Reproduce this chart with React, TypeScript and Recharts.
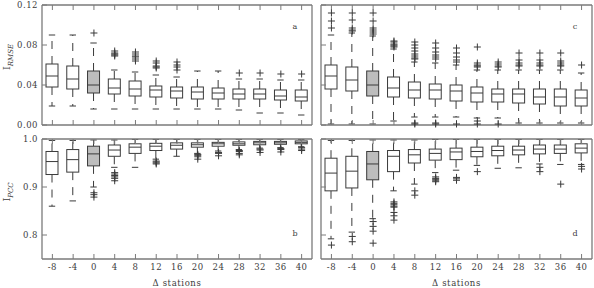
import React from 'react';
import { ComposedChart, Bar, Scatter, XAxis, YAxis } from 'recharts';

// ---------- categories / ticks ----------
const stations = [-8, -4, 0, 4, 8, 12, 16, 20, 24, 28, 32, 36, 40];
const highlightStation = 0;
const rmseTicks = [0, 0.04, 0.08, 0.12];
const pccTicks = [0.8, 0.9, 1.0];

// ---------- panel a : I_RMSE (left) ----------
const aHigh = [0.090, 0.090, 0.082, 0.055, 0.053, 0.050, 0.048, 0.054, 0.054, 0.046, 0.046, 0.045, 0.045];
const aQ3 = [0.061, 0.059, 0.054, 0.046, 0.044, 0.039, 0.038, 0.038, 0.037, 0.036, 0.036, 0.035, 0.035];
const aMed = [0.049, 0.046, 0.040, 0.037, 0.036, 0.035, 0.034, 0.033, 0.032, 0.031, 0.031, 0.029, 0.028];
const aQ1 = [0.038, 0.036, 0.032, 0.031, 0.029, 0.028, 0.027, 0.026, 0.026, 0.026, 0.026, 0.025, 0.024];
const aLow = [0.019, 0.019, 0.016, 0.016, 0.016, 0.016, 0.016, 0.016, 0.016, 0.015, 0.012, 0.012, 0.010];
const aOut = [
  [], [], [0.092],
  [0.074, 0.072, 0.071, 0.070, 0.069],
  [0.073, 0.071, 0.069, 0.068, 0.066, 0.064],
  [0.064, 0.062, 0.059, 0.058, 0.057],
  [0.063, 0.060, 0.058, 0.055],
  [], [], [0.052], [0.052], [0.051], [0.051],
];

// ---------- panel c : I_RMSE (right) ----------
const cHigh = [0.090, 0.092, 0.089, 0.076, 0.063, 0.062, 0.060, 0.055, 0.055, 0.055, 0.055, 0.055, 0.052];
const cQ3 = [0.060, 0.058, 0.054, 0.048, 0.043, 0.041, 0.040, 0.038, 0.036, 0.036, 0.036, 0.036, 0.035];
const cMed = [0.049, 0.045, 0.040, 0.037, 0.035, 0.035, 0.034, 0.032, 0.031, 0.031, 0.028, 0.028, 0.027];
const cQ1 = [0.036, 0.034, 0.029, 0.028, 0.027, 0.026, 0.024, 0.023, 0.023, 0.022, 0.021, 0.019, 0.019];
const cLow = [0.001, 0.001, 0.001, 0.004, 0.008, 0.008, 0.008, 0.007, 0.007, 0.002, 0.002, 0.002, 0.002];
const cOut = [
  [0.112, 0.104, 0.097],
  [0.112, 0.105, 0.097, 0.095, 0.094],
  [0.112, 0.104, 0.097, 0.095, 0.093, 0.091],
  [0.084, 0.083, 0.081, 0.080, 0.079, 0.078],
  [0.083, 0.080, 0.077, 0.074, 0.071, 0.069, 0.067, 0.066, 0.002, 0.001],
  [0.082, 0.077, 0.073, 0.070, 0.068, 0.066, 0.002, 0.001],
  [0.077, 0.072, 0.068, 0.065, 0.063, 0.001],
  [0.078, 0.062, 0.060, 0.059, 0.058, 0.004, 0.001],
  [0.063, 0.061, 0.059, 0.058, 0.001],
  [0.072, 0.065, 0.062, 0.060, 0.059],
  [0.072, 0.065, 0.062, 0.060, 0.059],
  [0.072, 0.064, 0.062, 0.060, 0.059],
  [0.060],
];

// ---------- panel b : I_PCC (left) ----------
const bHigh = [0.997, 0.997, 0.998, 0.998, 0.999, 0.999, 0.999, 0.999, 0.999, 0.999, 0.999, 0.999, 0.999];
const bQ3 = [0.974, 0.978, 0.985, 0.9875, 0.990, 0.991, 0.992, 0.992, 0.993, 0.994, 0.995, 0.995, 0.996];
const bMed = [0.953, 0.957, 0.969, 0.977, 0.983, 0.985, 0.987, 0.988, 0.990, 0.990, 0.992, 0.992, 0.993];
const bQ1 = [0.926, 0.931, 0.944, 0.964, 0.970, 0.976, 0.979, 0.983, 0.985, 0.987, 0.988, 0.989, 0.990];
const bLow = [0.860, 0.871, 0.900, 0.941, 0.941, 0.958, 0.964, 0.970, 0.975, 0.978, 0.981, 0.982, 0.984];
const bOut = [
  [], [],
  [0.888, 0.884, 0.879],
  [0.930, 0.927, 0.924, 0.921, 0.918, 0.913],
  [],
  [0.954, 0.952, 0.950, 0.948],
  [],
  [0.968, 0.966, 0.963, 0.958],
  [0.972, 0.970, 0.965],
  [0.976, 0.974, 0.970, 0.967],
  [0.979, 0.977, 0.972],
  [0.980, 0.978, 0.973],
  [0.982, 0.979, 0.976],
];

// ---------- panel d : I_PCC (right) ----------
const dHigh = [0.997, 0.997, 0.998, 0.998, 0.998, 0.999, 0.999, 0.999, 0.999, 0.999, 0.999, 0.999, 0.999];
const dQ3 = [0.960, 0.964, 0.974, 0.976, 0.978, 0.979, 0.981, 0.983, 0.985, 0.985, 0.9875, 0.9875, 0.990];
const dMed = [0.929, 0.933, 0.948, 0.964, 0.967, 0.970, 0.973, 0.974, 0.976, 0.977, 0.979, 0.979, 0.981];
const dQ1 = [0.892, 0.898, 0.915, 0.932, 0.950, 0.956, 0.957, 0.963, 0.965, 0.967, 0.969, 0.970, 0.971];
const dLow = [0.792, 0.806, 0.834, 0.892, 0.906, 0.930, 0.935, 0.945, 0.939, 0.940, 0.948, 0.947, 0.947];
const dOut = [
  [0.779],
  [0.797, 0.786],
  [0.828, 0.818, 0.808, 0.783],
  [0.869, 0.866, 0.863, 0.860, 0.858, 0.847, 0.840, 0.831],
  [0.892, 0.883],
  [0.921, 0.918, 0.916, 0.913, 0.911],
  [0.920, 0.917, 0.914],
  [0.932],
  [], [],
  [0.941, 0.932],
  [0.906],
  [0.943, 0.9375],
];

// ---------- styling ----------
const FONT = 'DejaVu Serif';
const FRAME = '#7a7a7a';
const INK = '#3a3a3a';
const TEXT = '#3c3c3c';

const maxOut = Math.max(...[aOut, cOut, bOut, dOut].flat().map((l) => l.length));
const outKeys = Array.from({ length: maxOut }, (_, k) => 'o' + k);

function buildRows(low: number[], q1: number[], med: number[], q3: number[], high: number[], out: number[][]) {
  return stations.map((x, i) => {
    const row: any = {
      x,
      range: [low[i], high[i]],
      lo: low[i], q1: q1[i], med: med[i], q3: q3[i], hi: high[i],
      filled: x === highlightStation,
    };
    outKeys.forEach((k, j) => {
      row[k] = out[i][j] ?? null;
    });
    return row;
  });
}

const rowsA = buildRows(aLow, aQ1, aMed, aQ3, aHigh, aOut);
const rowsC = buildRows(cLow, cQ1, cMed, cQ3, cHigh, cOut);
const rowsB = buildRows(bLow, bQ1, bMed, bQ3, bHigh, bOut);
const rowsD = buildRows(dLow, dQ1, dMed, dQ3, dHigh, dOut);

function BoxShape(props: any) {
  const { x, y, width, height, payload } = props;
  if (!payload || x == null || y == null) return <g />;
  const { lo, q1, med, q3, hi, filled } = payload;
  const yTop = Math.min(y, y + height);
  const yBot = Math.max(y, y + height);
  const py = (v: number) => yBot - ((yBot - yTop) * (v - lo)) / (hi - lo);
  const cx = x + width / 2;
  const cap = 3.2;
  const yQ3 = py(q3);
  const yQ1 = py(q1);
  const yMed = py(med);
  return (
    <g>
      <line x1={cx} x2={cx} y1={yQ3} y2={yTop} stroke={INK} strokeWidth={1} strokeDasharray="8 7" />
      <line x1={cx} x2={cx} y1={yQ1} y2={yBot} stroke={INK} strokeWidth={1} strokeDasharray="8 7" />
      <line x1={cx - cap} x2={cx + cap} y1={yTop} y2={yTop} stroke={INK} strokeWidth={1} />
      <line x1={cx - cap} x2={cx + cap} y1={yBot} y2={yBot} stroke={INK} strokeWidth={1} />
      <rect x={x} y={yQ3} width={width} height={yQ1 - yQ3} fill={filled ? '#bdbdbd' : '#ffffff'} stroke={INK} strokeWidth={1} />
      <line x1={x} x2={x + width} y1={yMed} y2={yMed} stroke={INK} strokeWidth={1} />
    </g>
  );
}

function Plus(props: any) {
  const { cx, cy } = props;
  if (cx == null || cy == null || !isFinite(cx) || !isFinite(cy)) return <g />;
  const s = 3.5;
  return (
    <path d={`M${cx - s},${cy}H${cx + s}M${cx},${cy - s}V${cy + s}`} stroke={INK} strokeWidth={1} fill="none" />
  );
}

const noTick = () => <g />;
const tickStyle = { fontSize: 8.5, fontFamily: FONT, fill: TEXT, letterSpacing: 0.5 };

type PanelProps = {
  left: number; top: number; width: number; height: number;
  rows: any[]; domain: [number, number]; yTicks: number[];
  fmt: (v: number) => string;
  showY: boolean; showX: boolean;
  yLabel?: [string, string]; letter: string; letterDy: number; yLabelDy: number;
};

function Panel(p: PanelProps) {
  const leftW = p.showY ? 42 : 10;
  const bottomH = p.showX ? 20 : 1;
  const xLabel = (lp: any) => {
    const vb = lp.viewBox || {};
    return (
      <text x={vb.x + vb.width / 2} y={vb.y + vb.height + 7} textAnchor="middle" fontFamily={FONT} fontSize={8.5} letterSpacing={0.6} fill={TEXT}>
        Δ stations
      </text>
    );
  };
  const yLabel = (lp: any) => {
    if (!p.yLabel) return null;
    const vb = lp.viewBox || {};
    const cx = vb.x + 10;
    const cy = vb.y + p.yLabelDy;
    return (
      <text x={cx} y={cy} transform={`rotate(-90 ${cx} ${cy})`} textAnchor="middle" fontFamily={FONT} fontSize={9.5} fill={TEXT}>
        {p.yLabel[0]}
        <tspan fontSize={7} fontStyle="italic" dy={2.5}>{p.yLabel[1]}</tspan>
      </text>
    );
  };
  const letterLabel = (lp: any) => {
    const vb = lp.viewBox || {};
    return (
      <text x={vb.x - 17} y={vb.y + p.letterDy} textAnchor="middle" dominantBaseline="middle" fontFamily={FONT} fontSize={8} fill={TEXT}>
        {p.letter}
      </text>
    );
  };
  return (
    <div style={{ position: 'absolute', left: p.left, top: p.top, width: p.width, height: p.height }}>
      <ComposedChart
        width={p.width}
        height={p.height}
        data={p.rows}
        margin={{ top: 4, right: 7, bottom: p.showX ? 9 : 4, left: 0 }}
      >
        <XAxis
          xAxisId="bottom" type="number" dataKey="x" domain={[-10, 42]} ticks={stations} interval={0}
          orientation="bottom" height={bottomH} tickSize={-5} tickMargin={10}
          axisLine={{ stroke: FRAME, strokeWidth: 1.3 }} tickLine={{ stroke: FRAME }}
          tick={p.showX ? tickStyle : noTick}
          label={p.showX ? { content: xLabel } : undefined}
        />
        <XAxis
          xAxisId="top" type="number" dataKey="x" domain={[-10, 42]} ticks={stations} interval={0}
          orientation="top" height={1} tickSize={-5}
          axisLine={{ stroke: FRAME, strokeWidth: 1.3 }} tickLine={{ stroke: FRAME }} tick={noTick}
        />
        <YAxis
          yAxisId="left" type="number" domain={p.domain} ticks={p.yTicks} interval={0}
          width={leftW} tickSize={-5} tickMargin={9} tickFormatter={p.fmt}
          axisLine={{ stroke: FRAME, strokeWidth: 1.3 }} tickLine={{ stroke: FRAME }}
          tick={p.showY ? tickStyle : noTick}
          label={p.yLabel ? { content: yLabel } : undefined}
        />
        <YAxis
          yAxisId="right" orientation="right" type="number" domain={p.domain} ticks={p.yTicks} interval={0}
          width={1} tickSize={-5}
          axisLine={{ stroke: FRAME, strokeWidth: 1.3 }} tickLine={{ stroke: FRAME }} tick={noTick}
          label={{ content: letterLabel }}
        />
        <Bar xAxisId="bottom" yAxisId="left" dataKey="range" barSize={12} shape={BoxShape} isAnimationActive={false} />
        {outKeys.map((k) => (
          <Scatter key={k} xAxisId="bottom" yAxisId="left" dataKey={k} shape={Plus} isAnimationActive={false} />
        ))}
      </ComposedChart>
    </div>
  );
}

const fmt2 = (v: number) => v.toFixed(2);
const fmt1 = (v: number) => v.toFixed(1);

export default function App() {
  return (
    <div style={{ position: 'absolute', left: 0, top: 0, width: 594, height: 288, background: '#fff', overflow: 'hidden' }}>
      <Panel left={0} top={0} width={320} height={130} rows={rowsA} domain={[0, 0.12]} yTicks={rmseTicks} fmt={fmt2}
        showY showX={false} yLabel={['I', 'RMSE']} yLabelDy={52} letter="a" letterDy={22} />
      <Panel left={311} top={0} width={289} height={130} rows={rowsC} domain={[0, 0.12]} yTicks={rmseTicks} fmt={fmt2}
        showY={false} showX={false} yLabelDy={0} letter="c" letterDy={22} />
      <Panel left={0} top={134} width={320} height={154} rows={rowsB} domain={[0.75, 1.0]} yTicks={pccTicks} fmt={fmt1}
        showY showX yLabel={['I', 'PCC']} yLabelDy={53} letter="b" letterDy={95} />
      <Panel left={311} top={134} width={289} height={154} rows={rowsD} domain={[0.75, 1.0]} yTicks={pccTicks} fmt={fmt1}
        showY={false} showX yLabelDy={0} letter="d" letterDy={95} />
    </div>
  );
}
